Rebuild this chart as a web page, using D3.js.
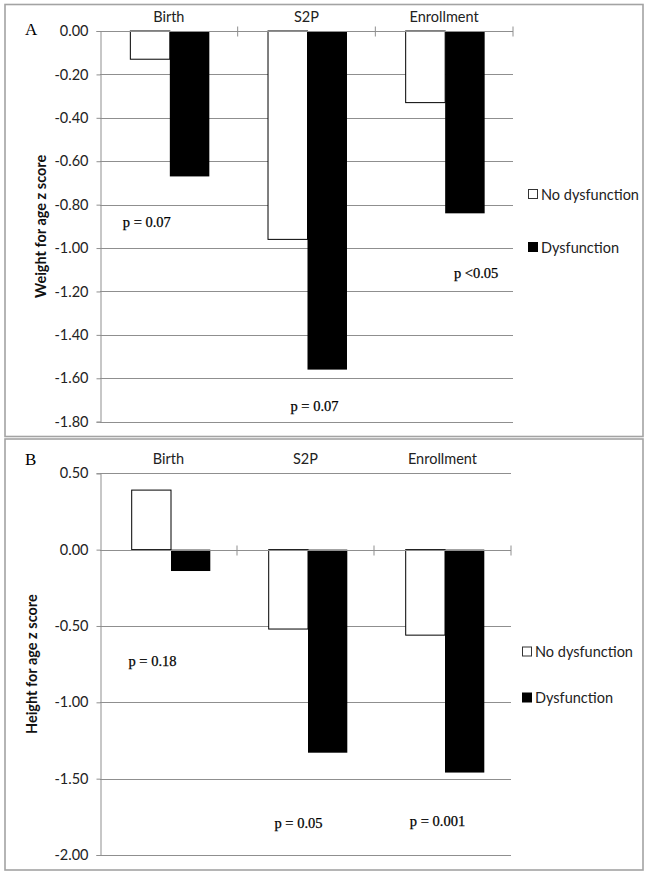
<!DOCTYPE html>
<html>
<head>
<meta charset="utf-8">
<script src="https://cdn.jsdelivr.net/npm/d3@7/dist/d3.min.js"></script>
<style>
  html, body { margin: 0; padding: 0; background: #fff; }
  svg { display: block; }
</style>
</head>
<body>
<script>
// ---------- data ----------
const categories = ["Birth", "S2P", "Enrollment"];
const seriesNames = ["No dysfunction", "Dysfunction"];

const weightNoDys = [-0.13, -0.96, -0.33];
const weightDys   = [-0.67, -1.56, -0.84];
const weightTicks = [0.00, -0.20, -0.40, -0.60, -0.80, -1.00, -1.20, -1.40, -1.60, -1.80];
const weightPLabels = ["p = 0.07", "p = 0.07", "p <0.05"];
const weightPValuesY = [-0.88, -1.727, -1.114];

const heightNoDys = [0.39, -0.52, -0.56];
const heightDys   = [-0.14, -1.33, -1.46];
const heightTicks = [0.50, 0.00, -0.50, -1.00, -1.50, -2.00];
const heightPLabels = ["p = 0.18", "p = 0.05", "p = 0.001"];
const heightPValuesY = [-0.73, -1.79, -1.78];

// ---------- drawing ----------
const W = 649, H = 877;
const svg = d3.select("body").append("svg").attr("width", W).attr("height", H);
svg.append("rect").attr("width", W).attr("height", H).attr("fill", "#fff");

const sansFont = "Lato, 'Open Sans', sans-serif";
const serifFont = "'Liberation Serif', 'DejaVu Serif', serif";
const gridColor = "#8f8f8f";

function drawPanel(cfg) {
  const g = svg.append("g");
  // frame
  g.append("rect")
    .attr("x", cfg.frame[0]).attr("y", cfg.frame[1])
    .attr("width", cfg.frame[2]).attr("height", cfg.frame[3])
    .attr("fill", "#fff").attr("stroke", "#a3a3a3").attr("stroke-width", 1.6);

  const y = d3.scaleLinear().domain(cfg.domain).range(cfg.yRange);
  const x = d3.scaleBand().domain(categories).range(cfg.xRange).paddingInner(0).paddingOuter(0);
  const xs = d3.scaleBand().domain(seriesNames).range([0, x.bandwidth()]).paddingInner(0).paddingOuter(0.743);

  // gridlines
  g.append("g").selectAll("line").data(cfg.ticks.filter(t => t !== 0)).join("line")
    .attr("x1", cfg.xRange[0]).attr("x2", cfg.xRange[1])
    .attr("y1", d => Math.round(y(d)) + 0.5).attr("y2", d => Math.round(y(d)) + 0.5)
    .attr("stroke", gridColor).attr("stroke-width", 1);

  // bars
  const rows = categories.map((c, i) => ({ c, vals: [cfg.noDys[i], cfg.dys[i]] }));
  const grp = g.append("g").selectAll("g").data(rows).join("g")
    .attr("transform", d => `translate(${x(d.c) + cfg.barShift},0)`);
  grp.selectAll("rect").data(d => d.vals.map((v, j) => ({ v, s: seriesNames[j] }))).join("rect")
    .attr("x", d => xs(d.s))
    .attr("width", xs.bandwidth())
    .attr("y", d => y(Math.max(0, d.v)))
    .attr("height", d => Math.abs(y(d.v) - y(0)))
    .attr("fill", d => d.s === "Dysfunction" ? "#000" : "#fff")
    .attr("stroke", "#000").attr("stroke-width", d => d.s === "Dysfunction" ? 0 : 1);

  // zero axis line with category ticks
  const y0 = Math.round(y(0)) + 0.5;
  g.append("line").attr("x1", cfg.xRange[0]).attr("x2", cfg.xRange[1])
    .attr("y1", y0).attr("y2", y0).attr("stroke", gridColor);
  g.append("g").selectAll("line").data(categories).join("line")
    .attr("x1", d => x(d) + x.bandwidth()).attr("x2", d => x(d) + x.bandwidth())
    .attr("y1", y0 - 5).attr("y2", y0 + 5).attr("stroke", gridColor);

  // y axis
  const yAxis = d3.axisLeft(y).tickValues(cfg.ticks).tickFormat(d3.format(".2f")).tickSize(4).tickPadding(8);
  const ax = g.append("g").attr("transform", `translate(${cfg.xRange[0] + 0.5},0)`).call(yAxis);
  ax.select(".domain").attr("stroke", gridColor);
  ax.selectAll(".tick line").attr("stroke", gridColor);
  ax.selectAll(".tick text").attr("font-family", sansFont).attr("font-size", 14.5).attr("fill", "#222")
    .text(d => d3.format(".2f")(d).replace("−", "-"));

  // category labels
  g.append("g").selectAll("text").data(categories).join("text")
    .attr("x", d => x(d) + x.bandwidth() / 2).attr("y", cfg.catY)
    .attr("text-anchor", "middle").attr("dominant-baseline", "central")
    .attr("font-family", sansFont).attr("font-size", 14.5).attr("fill", "#222")
    .text(d => d);

  // y title
  const my = (cfg.yRange[0] + cfg.yRange[1]) / 2;
  g.append("text").attr("transform", `translate(${cfg.titleX},${my}) rotate(-90)`)
    .attr("text-anchor", "middle").attr("dominant-baseline", "central")
    .attr("font-family", sansFont).attr("font-size", 14.5).attr("font-weight", "bold").attr("fill", "#111")
    .text(cfg.title);

  // panel letter
  g.append("text").attr("x", cfg.letterPos[0]).attr("y", cfg.letterPos[1])
    .attr("font-family", serifFont).attr("font-size", 17).attr("fill", "#000")
    .text(cfg.letter);

  // p labels
  g.append("g").selectAll("text").data(cfg.pLabels).join("text")
    .attr("x", (d, i) => x(categories[i]) + x.bandwidth() / 2 + cfg.pOffsets[i])
    .attr("y", (d, i) => y(cfg.pY[i]))
    .attr("text-anchor", "middle").attr("dominant-baseline", "central")
    .attr("font-family", serifFont).attr("font-size", 14.5).attr("fill", "#000")
    .attr("stroke", "#000").attr("stroke-width", 0.25)
    .text(d => d);

  // legend
  const lg = g.append("g").selectAll("g").data(seriesNames).join("g")
    .attr("transform", (d, i) => `translate(${cfg.legendX},${cfg.legendY[i]})`);
  lg.append("rect").attr("x", 0.5).attr("y", -4.5).attr("width", 9).attr("height", 9)
    .attr("fill", d => d === "Dysfunction" ? "#000" : "#fff")
    .attr("stroke", d => d === "Dysfunction" ? "#000" : "#333").attr("stroke-width", 1);
  lg.append("text").attr("x", 13).attr("y", 0).attr("dominant-baseline", "central")
    .attr("font-family", sansFont).attr("font-size", 14.5).attr("fill", "#222")
    .text(d => d);
}

drawPanel({
  frame: [5, 4.5, 638, 432],
  domain: [0, -1.8], yRange: [31, 421.7], xRange: [100, 513],
  ticks: weightTicks, noDys: weightNoDys, dys: weightDys,
  catY: 16, titleX: 40, title: "Weight for age z score",
  letter: "A", letterPos: [25, 35], barShift: 1,
  pLabels: weightPLabels, pY: weightPValuesY, pOffsets: [-22, 8, 32],
  legendX: 528, legendY: [194, 247]
});

drawPanel({
  frame: [5, 439, 638, 431],
  domain: [0.5, -2.0], yRange: [473.3, 855], xRange: [100, 511],
  ticks: heightTicks, noDys: heightNoDys, dys: heightDys,
  catY: 458, titleX: 31, title: "Height for age z score",
  letter: "B", letterPos: [25, 465], barShift: 2.5,
  pLabels: heightPLabels, pY: heightPValuesY, pOffsets: [-16, -7, -5],
  legendX: 522, legendY: [651.5, 697.5]
});
</script>
</body>
</html>
